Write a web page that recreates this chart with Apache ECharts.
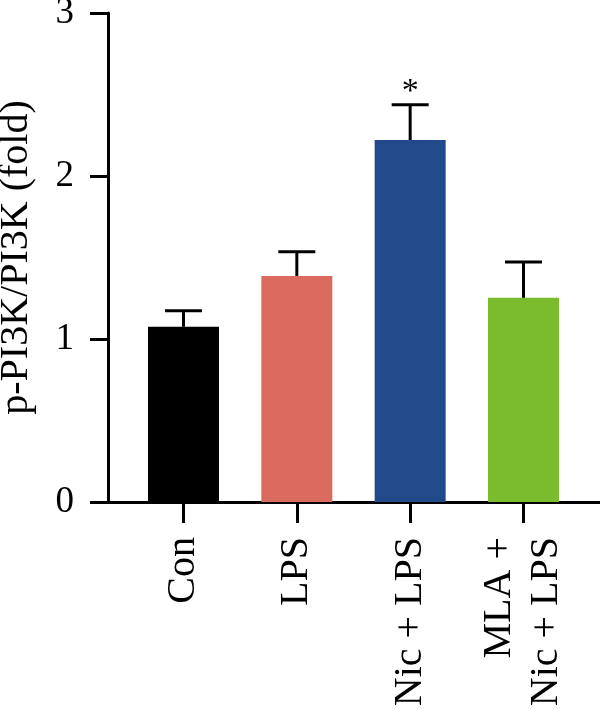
<!DOCTYPE html>
<html lang="en">
<head>
  <meta charset="utf-8">
  <title>p-PI3K/PI3K</title>
  <script src="https://cdn.jsdelivr.net/npm/echarts@6.0.0/dist/echarts.min.js"></script>
  <style>
    html, body { margin: 0; padding: 0; background: #fff; }
    #chart { width: 600px; height: 709px; }
  </style>
</head>
<body>
<div id="chart"></div>
<script>
  // data
  var categories = ['Con', 'LPS', 'Nic + LPS', 'MLA +\nNic + LPS'];
  var means = [1.075, 1.387, 2.221, 1.253];
  var sem = [0.098, 0.148, 0.216, 0.219];
  var marks = ['', '', '*', ''];
  var colors = ['#000000', '#DB6A5F', '#224A8A', '#7BBC2F'];
  var yTicks = [0, 1, 2, 3];

  var font = '"Liberation Serif", "Times New Roman", serif';
  var positions = categories.map(function (c, i) { return i + 1; });

  var barData = means.map(function (m, i) {
    return { value: [positions[i], m], itemStyle: { color: colors[i] } };
  });
  var errData = means.map(function (m, i) {
    return [positions[i], m, m + sem[i], i];
  });

  var chart = echarts.init(document.getElementById('chart'));
  chart.setOption({
    animation: false,
    grid: { left: 108, right: 0, top: 13, bottom: 207, containLabel: false, outerBoundsMode: 'none' },
    xAxis: {
      type: 'value',
      min: 0.334,
      max: 4.675,
      splitLine: { show: false },
      axisLine: { show: true, lineStyle: { color: '#000', width: 3 } },
      axisTick: { show: true, length: 21, customValues: positions, lineStyle: { color: '#000', width: 3 } },
      axisLabel: {
        customValues: positions,
        rotate: 90,
        margin: 35,
        fontFamily: font,
        fontSize: 40,
        lineHeight: 47,
        color: '#000',
        formatter: function (v) { return categories[Math.round(v) - 1] || ''; }
      }
    },
    yAxis: {
      type: 'value',
      min: 0,
      max: 3,
      interval: 1,
      name: 'p-PI3K/PI3K (fold)',
      nameLocation: 'middle',
      nameGap: 72,
      nameRotate: 90,
      nameTextStyle: { fontFamily: font, fontSize: 40, color: '#000' },
      splitLine: { show: false },
      axisLine: { show: true, lineStyle: { color: '#000', width: 3 } },
      axisTick: { show: true, length: 18, lineStyle: { color: '#000', width: 3 } },
      axisLabel: {
        margin: 34,
        fontFamily: font,
        fontSize: 37,
        color: '#000',
        formatter: function (v) { return yTicks.indexOf(v) >= 0 ? String(v) : ''; }
      }
    },
    series: [
      {
        type: 'bar',
        barWidth: 71,
        data: barData
      },
      {
        type: 'custom',
        data: errData,
        z: 3,
        renderItem: function (params, api) {
          var base = api.coord([api.value(0), api.value(1)]);
          var top = api.coord([api.value(0), api.value(2)]);
          var half = 18.5;
          var idx = api.value(3);
          var children = [
            { type: 'line', shape: { x1: base[0], y1: base[1], x2: top[0], y2: top[1] },
              style: { stroke: '#000', lineWidth: 3 } },
            { type: 'line', shape: { x1: top[0] - half, y1: top[1], x2: top[0] + half, y2: top[1] },
              style: { stroke: '#000', lineWidth: 3 } }
          ];
          if (marks[idx]) {
            children.push({
              type: 'text',
              style: {
                text: marks[idx], x: top[0], y: top[1] + 4,
                align: 'center', verticalAlign: 'bottom',
                fontFamily: font, fontSize: 34, fill: '#000'
              }
            });
          }
          return { type: 'group', children: children };
        }
      }
    ]
  });
</script>
</body>
</html>
